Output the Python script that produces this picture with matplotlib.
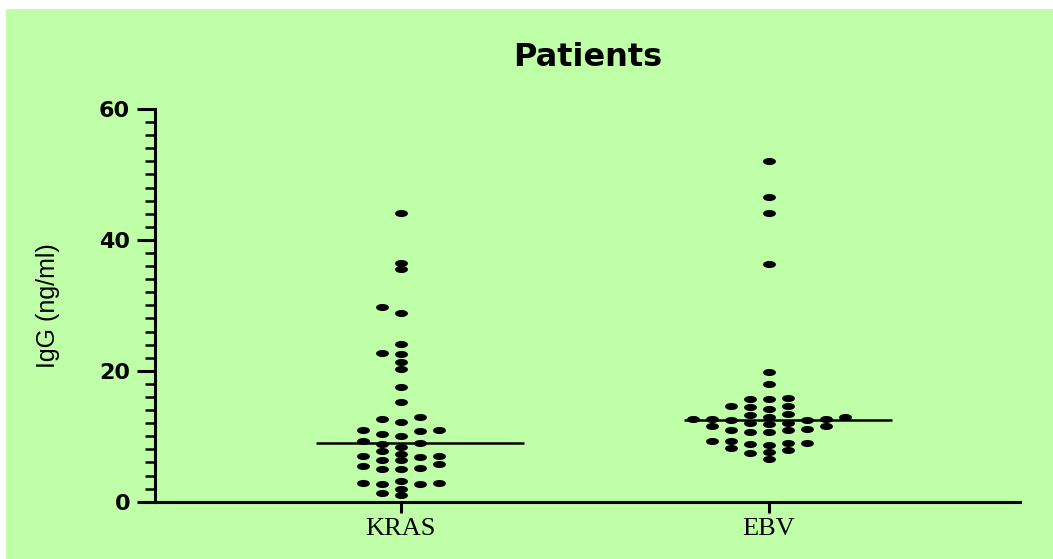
import numpy as np
import matplotlib
matplotlib.use("Agg")
import matplotlib.pyplot as plt
from matplotlib.path import Path
from matplotlib.markers import MarkerStyle
from matplotlib.patches import Rectangle

BG = "#bfffa7"

groups = ["KRAS", "EBV"]
kras = [44.1, 36.5, 35.5, 28.9, 29.7, 24.1, 22.7, 22.5, 21.3, 20.3, 17.6, 15.3,
        13.0, 12.2, 12.6, 10.8, 10.3, 10.1, 10.9, 10.9, 8.8, 8.4, 9.0, 9.2,
        7.3, 7.7, 5.8, 6.3, 6.9, 6.4, 7.0, 7.0, 5.0, 5.0, 5.2, 5.5,
        2.7, 3.1, 2.0, 1.0, 2.7, 1.3, 2.9, 2.9]
ebv = [52.1, 46.6, 44.1, 36.3, 19.8, 18.0, 15.7, 15.9, 15.7, 14.4, 14.6, 14.1,
       14.6, 13.2, 13.4, 12.5, 12.7, 12.9, 12.7, 12.9, 12.7, 12.5, 12.0, 11.9,
       12.1, 11.5, 11.5, 11.1, 10.7, 10.9, 10.7, 10.9, 9.3, 8.6, 9.0, 9.2,
       8.8, 9.0, 8.2, 7.9, 7.4, 7.6, 6.6]
yticks = [0, 20, 40, 60]

# pixel scale of the axes, used to spread the dots so they don't overlap
XPX = 368.0   # px per category unit
YPX = 6.545   # px per ng/ml
COL = 18.5    # min horizontal gap between neighbours (px)
ROW = 6.4     # min vertical gap (px)
STEP = 9.5


def swarm(vals, center):
    vals = np.asarray(vals, dtype=float)
    xs = np.zeros(len(vals))
    placed = []
    for i in np.argsort(vals):
        y = vals[i] * YPX
        k = 0
        while True:
            n = (k + 1) // 2 * (1 if k % 2 else -1) if k else 0
            dx = -n * STEP
            if all(abs(dx - px) >= COL or abs(y - py) >= ROW for px, py in placed):
                break
            k += 1
        placed.append((dx, y))
        xs[i] = center + dx / XPX
    return xs


# flattened ellipse dot
circ = Path.unit_circle()
dot = MarkerStyle(Path(circ.vertices * [1.0, 0.55], circ.codes))

fig = plt.figure(figsize=(10.53, 5.59), dpi=100)
fig.patch.set_facecolor("white")
fig.patches.append(Rectangle((6 / 1053, 0), 1, 1 - 9 / 559, transform=fig.transFigure,
                             facecolor=BG, edgecolor="none", zorder=-10))
ax = fig.add_axes([155 / 1053, 57.3 / 559, 865 / 1053, 392.7 / 559])
ax.set_facecolor("none")

for i, vals in enumerate([kras, ebv]):
    xs = swarm(vals, i)
    ax.plot(xs, vals, ls="none", marker=dot, markersize=9.3, color="black",
            markeredgewidth=0)
    med = np.median(vals)
    ax.plot([i - 0.23, i + 0.334], [med, med], color="black", lw=1.8,
            solid_capstyle="butt")

ax.set_xlim(-0.668, 1.682)
ax.set_ylim(0, 60)
ax.set_xticks(range(len(groups)))
ax.set_xticklabels(groups, family="Liberation Serif", fontsize=19)
ax.set_yticks(yticks)
ax.set_yticks(np.arange(0, 61, 2), minor=True)
for lab in ax.get_yticklabels():
    lab.set_fontweight("bold")
    lab.set_fontsize(16)

ax.spines["top"].set_visible(False)
ax.spines["right"].set_visible(False)
for s in ("left", "bottom"):
    ax.spines[s].set_linewidth(2.2)
ax.tick_params(axis="y", which="major", length=13, width=2.2, pad=5)
ax.tick_params(axis="y", which="minor", length=7.5, width=1.8)
ax.tick_params(axis="x", length=8, width=2.2, pad=4)

ax.set_ylabel("IgG (ng/ml)", family="Liberation Sans", fontsize=18, labelpad=28)
ax.set_title("Patients", fontsize=23, fontweight="bold", pad=31)

fig.savefig("out.png", dpi=100, facecolor=fig.get_facecolor())
